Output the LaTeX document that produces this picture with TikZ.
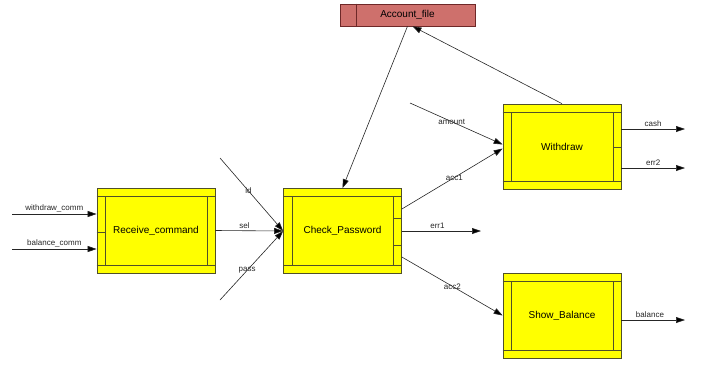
\documentclass[tikz,border=0pt]{standalone}
\usepackage{fontspec}
\setmainfont{Liberation Sans}
\usetikzlibrary{arrows.meta, calc}
\definecolor{ProcYellow}{RGB}{255,255,0}
\definecolor{ProcEdge}{RGB}{80,80,40}
\definecolor{FileRed}{RGB}{206,112,108}
\definecolor{FileEdge}{RGB}{110,40,40}
\tikzset{
  proc/.style={rectangle, draw=ProcEdge, fill=ProcYellow, line width=0.7pt,
               minimum width=118pt, minimum height=85pt, inner sep=0pt,
               font=\fontsize{10}{12}\selectfont},
  datafile/.style={rectangle, draw=FileEdge, fill=FileRed, line width=0.6pt,
               minimum width=135pt, minimum height=22pt, inner sep=0pt,
               font=\fontsize{10}{12}\selectfont},
  band/.style={ProcEdge, line width=0.7pt},
  flow/.style={black!85, line width=0.6pt, -{Triangle[length=9pt,width=6pt,fill=black]}},
  lbl/.style={font=\fontsize{8}{9}\selectfont, text=black!85, inner sep=1pt},
}

\begin{document}
\begin{tikzpicture}[x=1pt, y=-1pt]
  \useasboundingbox (0,0) rectangle (702,367);

  % processes and the data file
  \node[proc] (recv) at (156,230.5) {Receive\_command};
  \node[proc] (check) at (342.5,231) {Check\_Password};
  \node[proc] (withdraw) at (562,146.5) {Withdraw};
  \node[proc] (show) at (562,315.5) {Show\_Balance};
  \node[datafile] (acct) at (407.5,15) {Account\_file};
  \draw[FileEdge, line width=0.6pt] ([xshift=17pt]acct.north west) -- ([xshift=17pt]acct.south west);

  % frame bands of each process box
  \foreach \b in {recv, check, withdraw, show} {
    \draw[band] ([yshift=-8.5pt]\b.north west) -- ([yshift=-8.5pt]\b.north east);
    \draw[band] ([yshift=8.5pt]\b.south west) -- ([yshift=8.5pt]\b.south east);
    \draw[band] ([xshift=9pt,yshift=-8.5pt]\b.north west) -- ([xshift=9pt,yshift=8.5pt]\b.south west);
    \draw[band] ([xshift=-8.5pt,yshift=-8.5pt]\b.north east) -- ([xshift=-8.5pt,yshift=8.5pt]\b.south east);
  }
  % port dividers
  \draw[band] ([yshift=-1.5pt]recv.west) -- ([xshift=9pt,yshift=-1.5pt]recv.west);
  \draw[band] ([yshift=13pt]check.east) -- ([xshift=-8.5pt,yshift=13pt]check.east);
  \draw[band] ([yshift=-14pt]check.east) -- ([xshift=-8.5pt,yshift=-14pt]check.east);
  \draw[band] ([yshift=-0.5pt]withdraw.east) -- ([xshift=-8.5pt,yshift=-0.5pt]withdraw.east);

  % free ends of the flows
  \coordinate (inW) at (12,214);
  \coordinate (inB) at (12,249);
  \coordinate (inId) at (220,158);
  \coordinate (inPass) at (220,300);
  \coordinate (inAmt) at (410,103);
  \coordinate (outErr1) at (481,231);
  \coordinate (outCash) at (685,129);
  \coordinate (outErr2) at (685,168);
  \coordinate (outBal) at (685,320);

  % inputs
  \draw[flow] (inW) -- (inW -| recv.west) node[lbl, midway, above=1pt] {withdraw\_comm};
  \draw[flow] (inB) -- (inB -| recv.west) node[lbl, midway, above=1pt] {balance\_comm};
  \draw[flow] (recv.east) -- (check.west) node[lbl, pos=0.43, above=1pt] {sel};
  \draw[flow] (inId) -- (check.west) node[lbl, pos=0.45] {id};
  \draw[flow] (inPass) -- (check.west) node[lbl, pos=0.43] {pass};
  \draw[flow] (inAmt) -- ([yshift=2pt]withdraw.west) node[lbl, pos=0.45] {amount};

  % outputs of Check_Password
  \draw[flow] ([yshift=22pt]check.east) -- ([yshift=-2pt]withdraw.west) node[lbl, pos=0.52] {acc1};
  \draw[flow] (check.east) -- (outErr1) node[lbl, pos=0.45, above=1pt] {err1};
  \draw[flow] ([yshift=-26pt]check.east) -- (show.west) node[lbl, pos=0.5] {acc2};

  % outputs of Withdraw and Show_Balance
  \draw[flow] ([yshift=17.5pt]withdraw.east) -- (outCash) node[lbl, pos=0.5, above=1pt] {cash};
  \draw[flow] ([yshift=-21.5pt]withdraw.east) -- (outErr2) node[lbl, pos=0.5, above=1pt] {err2};
  \draw[flow] ([yshift=-4.5pt]show.east) -- (outBal) node[lbl, pos=0.45, above=1pt] {balance};

  % file access
  \draw[flow] (acct.south) -- (check.north);
  \draw[flow] (withdraw.north) -- ([xshift=5pt]acct.south);
\end{tikzpicture}
\end{document}
